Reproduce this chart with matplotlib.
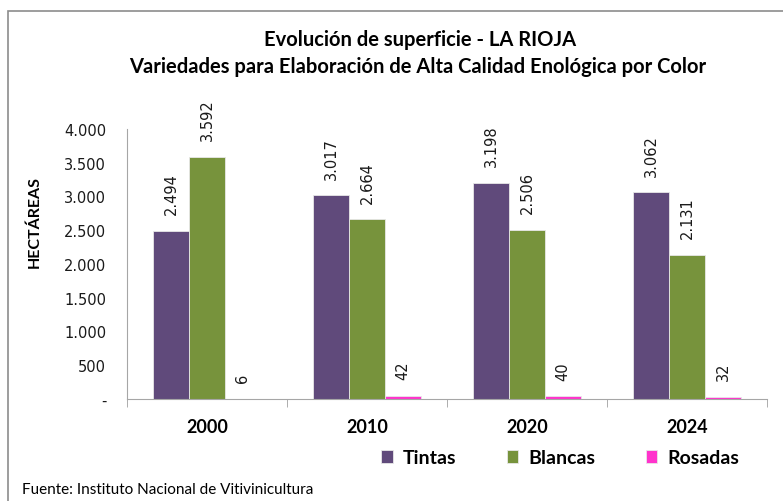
#!/usr/bin/env python3
"""Superficie de variedades de alta calidad enológica por color - La Rioja."""
import matplotlib
matplotlib.use('Agg')
import matplotlib.pyplot as plt
import matplotlib.patches as mpatches
from matplotlib.ticker import FuncFormatter, FixedLocator
import numpy as np

years = ['2000', '2010', '2020', '2024']
series = ['Tintas', 'Blancas', 'Rosadas']
tintas = [2494, 3017, 3198, 3062]
blancas = [3592, 2664, 2506, 2131]
rosadas = [6, 42, 40, 32]
colors = ['#604A7B', '#77933C', '#FF33CC']


def miles(v):
    v = int(round(v))
    if v == 0:
        return '-'
    return f'{v:,}'.replace(',', '.')


fig = plt.figure(figsize=(7.83, 5.02), dpi=100)
ax = fig.add_axes([127 / 783, 1 - 400 / 502, 640 / 783, 270 / 502])

# gray frame around the chart area (runs off the right/bottom edges)
frame = mpatches.Rectangle((8 / 783, -0.05), 1.2, 1 - 12 / 502 + 0.05,
                           transform=fig.transFigure, fill=False,
                           edgecolor='#8C8C8C', linewidth=1.2)
fig.patches.append(frame)

x = np.arange(len(years))
w = 0.225
bars = []
for i, (vals, col) in enumerate(zip([tintas, blancas, rosadas], colors)):
    b = ax.bar(x + (i - 1) * w, vals, w, color=col, label=series[i],
               edgecolor='#E8E8E8', linewidth=0.6)
    bars.append(b)
    for xi, v in zip(x + (i - 1) * w, vals):
        ax.annotate(miles(v), (xi, v), xytext=(0, 12), textcoords='offset points',
                    ha='center', va='bottom', rotation=90, fontsize=10.5,
                    family='DejaVu Sans', color='#1a1a1a')

ax.set_xlim(-0.5, 3.5)
ax.set_ylim(0, 4000)
ax.set_yticks(np.arange(0, 4001, 500))
ax.yaxis.set_major_formatter(FuncFormatter(lambda v, p: miles(v)))
ax.tick_params(axis='y', length=0, labelsize=10.5, pad=15, labelcolor='#1a1a1a')
ax.set_xticks(x)
ax.set_xticklabels(years, fontsize=13, fontweight='bold', family='Lato')
ax.xaxis.set_minor_locator(FixedLocator(np.arange(-0.5, 3.6, 1)))
ax.tick_params(axis='x', which='major', length=0, pad=14)
ax.tick_params(axis='x', which='minor', length=6, color='#A0A0A0')

for s in ['top', 'right']:
    ax.spines[s].set_visible(False)
for s in ['left', 'bottom']:
    ax.spines[s].set_color('#A6A6A6')

fig.text(35 / 783, 1 - 222 / 502, 'HECTÁREAS', rotation=90, ha='center', va='center',
         fontsize=11.5, fontweight='bold', family='Lato')

fig.text(420 / 783, 1 - 40 / 502, 'Evolución de superficie - LA RIOJA',
         ha='center', va='center', fontsize=14.5, fontweight='bold', family='Lato')
fig.text(418 / 783, 1 - 67 / 502,
         'Variedades para Elaboración de Alta Calidad Enológica por Color',
         ha='center', va='center', fontsize=14.5, fontweight='bold', family='Lato')

fig.legend(handles=bars, labels=series, loc='center',
           bbox_to_anchor=(560 / 783, 1 - 459 / 502), ncol=3, frameon=False,
           prop={'family': 'Lato', 'weight': 'bold', 'size': 14},
           handlelength=0.6, handleheight=0.6, handletextpad=0.5, columnspacing=2.6)

fig.text(22 / 783, 1 - 490 / 502, 'Fuente: Instituto Nacional de Vitivinicultura',
         ha='left', va='center', fontsize=11, family='Lato')

plt.savefig('out.png', dpi=100, facecolor='white')
